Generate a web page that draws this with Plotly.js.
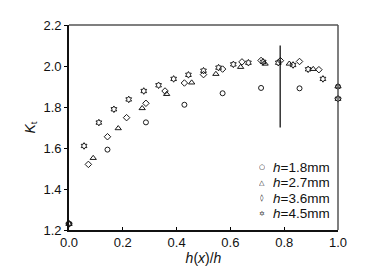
<!DOCTYPE html>
<html>
<head>
<meta charset="utf-8">
<script src="https://cdn.plot.ly/plotly-3.0.1.min.js"></script>
<style>html,body{margin:0;padding:0;background:#fff;}#chart{width:371px;height:277px;}</style>
</head>
<body>
<div id="chart"></div>
<script>
// h = 1.8 mm (circles)
var x18 = [0, 0.143, 0.286, 0.429, 0.571, 0.714, 0.857, 1.0];
var y18 = [1.23, 1.592, 1.725, 1.811, 1.867, 1.893, 1.891, 1.90];
// h = 2.7 mm (triangles)
var x27 = [0, 0.09, 0.183, 0.272, 0.363, 0.456, 0.546, 0.638, 0.729, 0.819, 0.908, 1.0];
var y27 = [1.23, 1.551, 1.696, 1.794, 1.863, 1.919, 1.961, 1.995, 2.011, 2.011, 1.985, 1.90];
// h = 3.6 mm (diamonds)
var x36 = [0, 0.072, 0.143, 0.214, 0.286, 0.357, 0.429, 0.5, 0.571, 0.643, 0.714, 0.786, 0.857, 0.929, 1.0];
var y36 = [1.23, 1.52, 1.655, 1.748, 1.818, 1.878, 1.917, 1.958, 1.985, 2.02, 2.027, 2.026, 2.022, 1.982, 1.84];
// h = 4.5 mm (six-pointed stars)
var x45 = [0, 0.056, 0.111, 0.167, 0.222, 0.278, 0.333, 0.389, 0.444, 0.5, 0.556, 0.611, 0.667, 0.722, 0.778, 0.833, 0.889, 0.944, 1.0];
var y45 = [1.23, 1.61, 1.724, 1.789, 1.837, 1.878, 1.906, 1.937, 1.957, 1.977, 1.992, 2.008, 2.016, 2.02, 2.016, 2.005, 1.984, 1.937, 1.84];
// vertical reference line
var refX = [0.785, 0.785];
var refY = [1.70, 2.10];

var seriesNames = ['<i>h</i>=1.8mm', '<i>h</i>=2.7mm', '<i>h</i>=3.6mm', '<i>h</i>=4.5mm'];
var legendGlyphs = ['\u25CB', '\u25B3', '\u25CA', '\u2721'];
var xTickLabels = ['0.0', '0.2', '0.4', '0.6', '0.8', '1.0'];
var yTickLabels = ['1.2', '1.4', '1.6', '1.8', '2.0', '2.2'];

var symbols = ['circle-open', 'triangle-up-open', 'diamond-open', 'hexagram-open'];
var sizes = [5, 5.5, 5, 5];
var xs = [x18, x27, x36, x45];
var ys = [y18, y27, y36, y45];

var ink = '#1a1a1a';
var traces = [];
for (var i = 0; i < 4; i++) {
  traces.push({
    type: 'scatter', mode: 'markers', x: xs[i], y: ys[i], name: seriesNames[i],
    marker: {symbol: symbols[i], size: sizes[i], color: ink, line: {color: ink, width: 1}},
    cliponaxis: false, showlegend: false
  });
}
traces.push({
  type: 'scatter', mode: 'lines', x: refX, y: refY, showlegend: false,
  line: {color: '#000', width: 1.2}, hoverinfo: 'skip'
});

// legend built as text annotations (rows placed in paper units)
var annotations = [];
var rowY = [0.306, 0.2305, 0.155, 0.0795];
for (var k = 0; k < 4; k++) {
  annotations.push({
    xref: 'paper', yref: 'paper', x: 0.752, y: rowY[k], xanchor: 'left', yanchor: 'middle',
    text: seriesNames[k], showarrow: false, height: 15, valign: 'middle',
    font: {size: 13.5, color: '#111'}
  });
  annotations.push({
    xref: 'paper', yref: 'paper', x: 0.719, y: rowY[k], xanchor: 'center', yanchor: 'middle',
    text: legendGlyphs[k], showarrow: false, height: 10,
    font: {size: 7, color: '#111', family: 'DejaVu Sans'}
  });
}

var layout = {
  width: 371, height: 277,
  margin: {l: 69, r: 33, t: 25, b: 47},
  paper_bgcolor: '#fff', plot_bgcolor: '#fff',
  font: {family: 'Liberation Sans, Arial, sans-serif', color: '#111', size: 13},
  showlegend: false,
  annotations: annotations,
  shapes: [
    {type: 'line', xref: 'paper', yref: 'paper', x0: 0, x1: 1, y0: 1, y1: 1, line: {color: '#555', width: 1.5}},
    {type: 'line', xref: 'paper', yref: 'paper', x0: 1, x1: 1, y0: 0, y1: 1, line: {color: '#555', width: 1.5}}
  ],
  xaxis: {
    range: [0, 1], tickvals: [0, 0.2, 0.4, 0.6, 0.8, 1.0], ticktext: xTickLabels,
    ticks: 'inside', ticklen: 3, tickcolor: '#000',
    showline: true, linecolor: '#111', linewidth: 1.5, mirror: false,
    showgrid: false, zeroline: false,
    tickfont: {size: 13},
    title: {text: '<i>h</i>(<i>x</i>)/<i>h</i>', font: {size: 14}, standoff: 0}
  },
  yaxis: {
    range: [1.2, 2.2], tickvals: [1.2, 1.4, 1.6, 1.8, 2.0, 2.2], ticktext: yTickLabels,
    ticks: 'outside', ticklen: 3, tickcolor: '#000',
    showline: true, linecolor: '#111', linewidth: 1.8, mirror: false,
    showgrid: false, zeroline: false,
    tickfont: {size: 13},
    title: {text: '<i>K</i><sub>t</sub>', font: {size: 14}, standoff: 5}
  }
};

Plotly.newPlot('chart', traces, layout, {staticPlot: true, displayModeBar: false});
</script>
</body>
</html>
